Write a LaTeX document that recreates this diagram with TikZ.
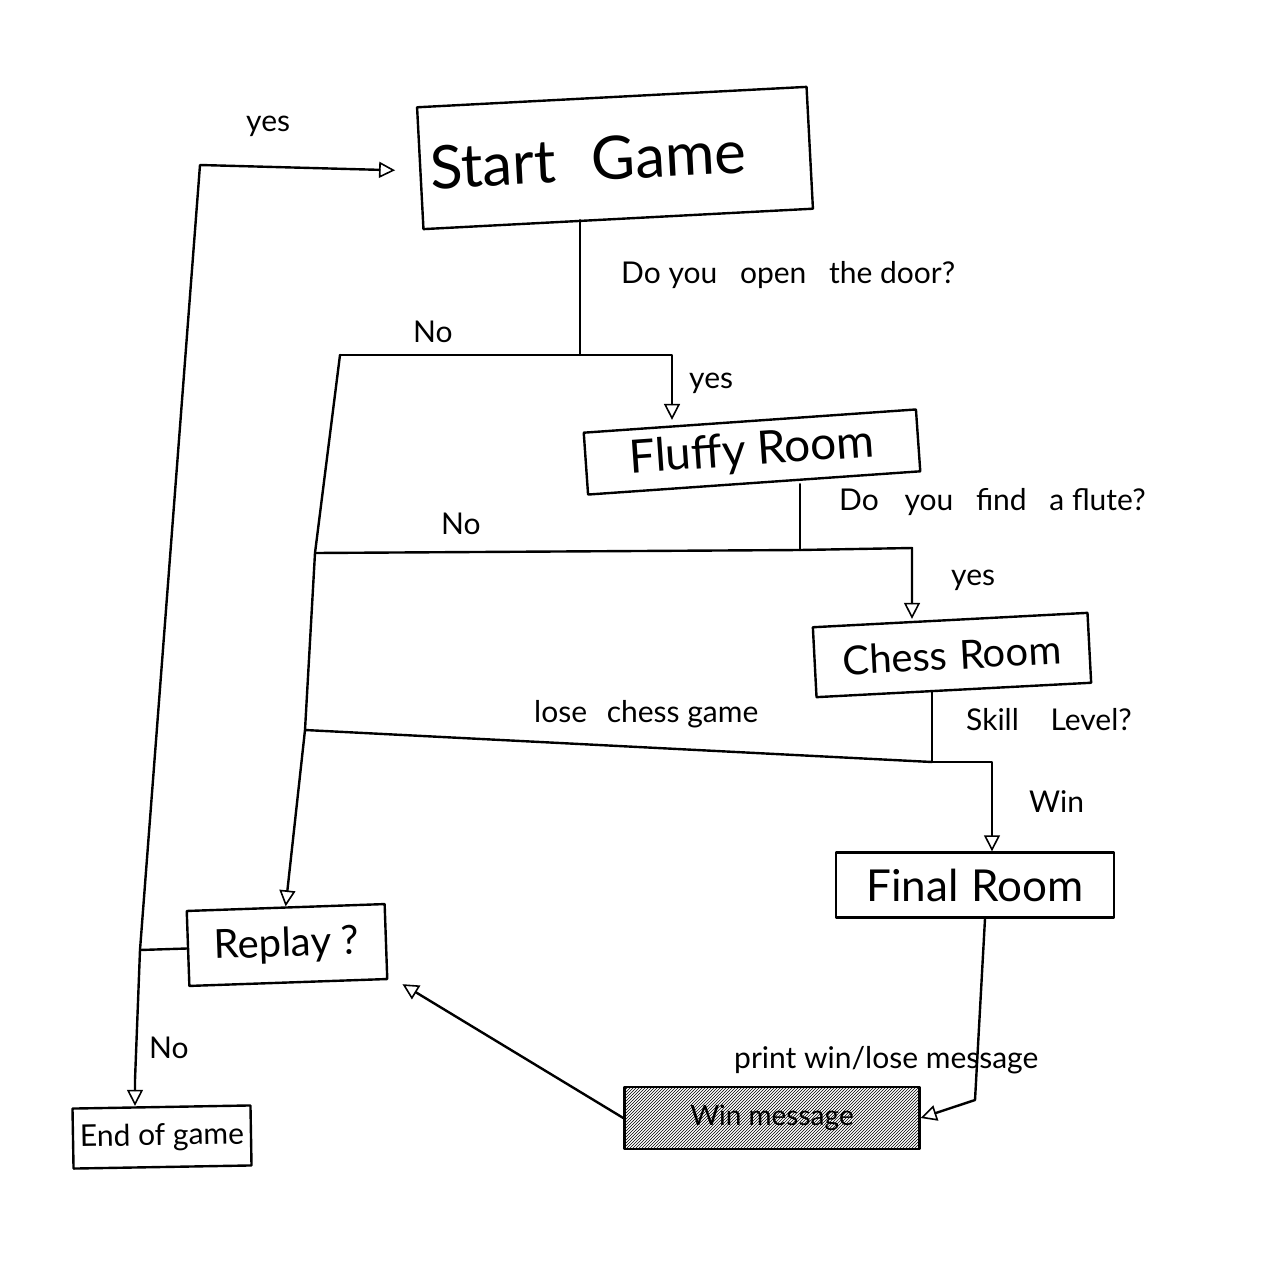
\documentclass[tikz,border=0pt]{standalone}
\usepackage{fontspec}
\setmainfont{Lato}
\usetikzlibrary{arrows.meta,patterns,calc}
\begin{document}
\begin{tikzpicture}[x=1pt,y=-1pt, line width=2.4pt, line join=round, line cap=round,
  arr/.style={-{Triangle[open,length=16pt,width=16pt,line width=1.6pt]}},
  box/.style={draw, inner sep=0pt},
  lbl/.style={font=\fontsize{30}{34}\selectfont, anchor=base west, inner sep=0pt}]
\useasboundingbox (0,0) rectangle (1268,1268);
\fill[white] (0,0) rectangle (1268,1268);

% boxes
\node[box, minimum width=390, minimum height=122, rotate=3, font=\fontsize{60}{64}\selectfont] (start) at (615,158) {Start\hspace{0.6em}Game\hspace*{0.9em}};
\node[box, minimum width=333, minimum height=62, rotate=4, font=\fontsize{46}{50}\selectfont] (fluffy) at (752,452) {Fluffy Room};
\node[box, minimum width=275, minimum height=70, rotate=3, font=\fontsize{40}{44}\selectfont] (chess) at (952,655) {Chess\hspace{0.3em}Room};
\node[box, minimum width=278, minimum height=65, font=\fontsize{44}{48}\selectfont] (final) at (975,885) {Final\hspace{0.3em}Room};
\node[box, minimum width=198, minimum height=75, rotate=2, font=\fontsize{40}{44}\selectfont] (replay) at (287,945) {Replay ?};
\node[box, minimum width=178, minimum height=60, rotate=1, font=\fontsize{30}{34}\selectfont] (endg) at (162,1137) {End of game};
\node[box, minimum width=295, minimum height=62, pattern=north east lines, font=\fontsize{28}{32}\selectfont] (msg) at (772,1118) {Win message};

% junctions
\coordinate (j1) at (580,355);
\coordinate (f1) at (672,355);
\coordinate (n1) at (340,355);
\coordinate (n2) at (315,553);
\coordinate (n3) at (305,730);
\coordinate (j2) at (800,550);
\coordinate (f2) at (912,548);
\coordinate (j3) at (932,762);
\coordinate (f3) at (992,762);
\coordinate (t1) at (200,165);
\coordinate (k) at (140,950);
\coordinate (k2) at (135,1080);
\coordinate (p1) at (985,925);
\coordinate (p2) at (975,1100);

% start -> fluffy / no
\draw (start.south -| j1) -- (j1);
\draw[arr] (j1) -- (f1) -- (f1 |- fluffy.north);
\draw (j1) -- (n1);
\draw[arr] (n1) -- (n2) -- (n3) -- (replay.north);

% fluffy -> chess / no
\draw (fluffy.south -| j2) -- (j2);
\draw[arr] (j2) -- (f2) -- (f2 |- chess.north);
\draw (j2) -- (n2);

% chess -> final / lose
\draw (chess.south -| j3) -- (j3);
\draw[arr] (j3) -- (f3) -- (f3 |- final.north);
\draw (j3) -- (n3);

% final -> message
\draw[arr] (final.south -| p1) -- (p2) -- (msg.east);

% message -> replay
\draw[arr] (msg.west) -- ($(replay.south east)+(14,4)$);

% replay -> start / end
\draw (replay.west) -- (k);
\draw[arr] (k) -- (t1) -- ($(start.west)+(-24,2)$);
\draw[arr] (k) -- (k2) -- (k2 |- endg.north);

% labels
\node[lbl] (l1) at (245,132) {yes};
\node[lbl] (l2) at (620,283) {Do you\hspace{0.5em} open\hspace{0.5em} the door?};
\node[lbl] (l3) at (412,342) {No};
\node[lbl] (l4) at (688,388) {yes};
\node[lbl] (l5) at (838,510) {Do\hspace{0.6em} you\hspace{0.5em} find\hspace{0.5em} a flute?};
\node[lbl] (l6) at (440,534) {No};
\node[lbl] (l7) at (950,585) {yes};
\node[lbl] (l8) at (965,730) {Skill\hspace{0.8em} Level?};
\node[lbl] (l9) at (533,722) {lose\hspace{0.4em} chess game};
\node[lbl] (l10) at (1028,812) {Win};
\node[lbl] (l11) at (733,1068) {print win/lose message};
\node[lbl] (l12) at (148,1058) {No};
\end{tikzpicture}
\end{document}
